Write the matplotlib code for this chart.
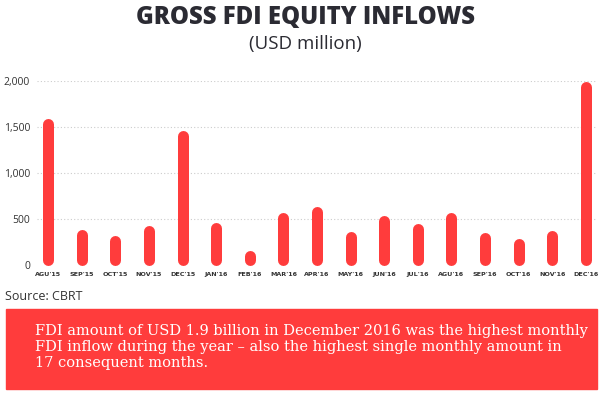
import matplotlib
matplotlib.use("Agg")
import matplotlib.pyplot as plt
from matplotlib.patches import Rectangle

months = ["AGU'15", "SEP'15", "OCT'15", "NOV'15", "DEC'15", "JAN'16", "FEB'16",
          "MAR'16", "APR'16", "MAY'16", "JUN'16", "JUL'16", "AGU'16", "SEP'16",
          "OCT'16", "NOV'16", "DEC'16"]
inflows = [1590, 385, 320, 425, 1460, 460, 155, 575, 640, 365, 535, 450,
           575, 350, 285, 375, 2000]
y_ticks = [0, 500, 1000, 1500, 2000]

red = "#ff3c3c"
dark = "#2b2b33"

fig = plt.figure(figsize=(6.1, 3.93), dpi=100)
ax = fig.add_axes([37 / 610, 1 - 265 / 393, 560 / 610, 184 / 393])

# bars are drawn as thick lines with round caps; shorten by the cap radius
bar_px = 11
r = (bar_px / 2) / 184 * 2000
x = list(range(len(months)))
for xi, v in zip(x, inflows):
    ax.plot([xi, xi], [r, max(v - r, r)], color=red, lw=bar_px * 0.72,
            solid_capstyle="round", clip_on=False, zorder=3)

ax.set_xlim(-0.33, len(months) - 0.67)
ax.set_ylim(0, 2000)
ax.set_yticks(y_ticks)
ax.set_yticklabels([f"{t:,}" for t in y_ticks], fontsize=7.5, color="#333333",
                   family="Open Sans")
ax.set_xticks(x)
ax.set_xticklabels(months, fontsize=4.6, fontweight="bold", color="#333333",
                   family="DejaVu Sans")
ax.tick_params(length=0)
ax.tick_params(axis="y", pad=5)
ax.tick_params(axis="x", pad=5)
for t in y_ticks[1:]:
    ax.axhline(t, color="#cccccc", lw=0.8, ls=(0, (1, 2)), zorder=1)
for s in ax.spines.values():
    s.set_visible(False)

fig.text(0.5, 1 - 18 / 393, "GROSS FDI EQUITY INFLOWS", ha="center", va="center",
         fontsize=17.2, fontweight="heavy", color=dark, family="Open Sans")
fig.text(0.5, 1 - 44 / 393, "(USD million)", ha="center", va="center",
         fontsize=13.5, color=dark, family="Open Sans")
fig.text(5 / 610, 1 - 296 / 393, "Source: CBRT", ha="left", va="center",
         fontsize=9, color="#333333", family="Open Sans")

fig.patches.append(Rectangle((6 / 610, 1 - 389 / 393), 591 / 610, 80 / 393,
                             transform=fig.transFigure, color=red, zorder=0))
fig.text(35 / 610, 1 - 347 / 393,
         "FDI amount of USD 1.9 billion in December 2016 was the highest monthly\n"
         "FDI inflow during the year \u2013 also the highest single monthly amount in\n"
         "17 consequent months.",
         ha="left", va="center", fontsize=10.5, color="white",
         family="DejaVu Serif", linespacing=1.2)

fig.savefig("out.png", dpi=100)
